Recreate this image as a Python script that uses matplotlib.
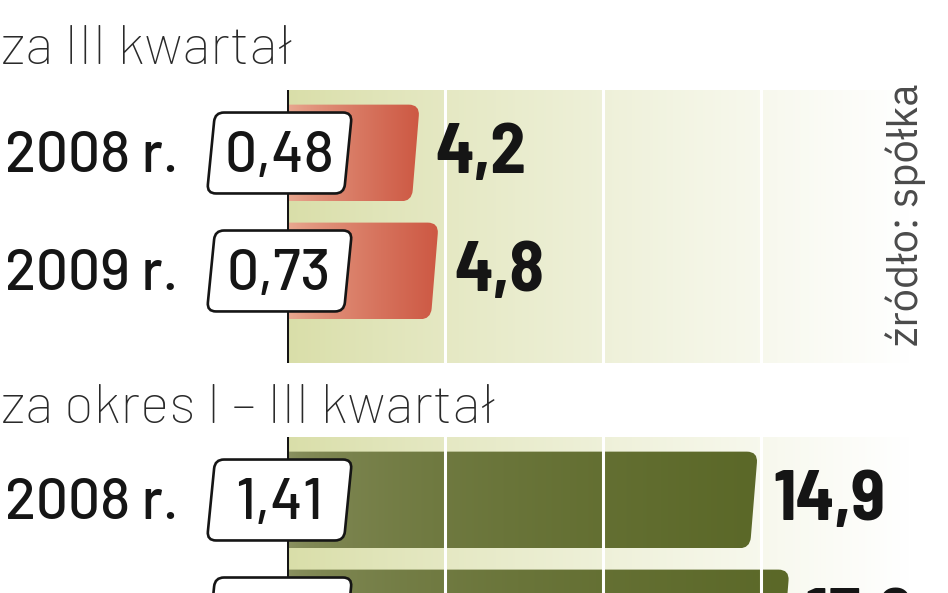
import numpy as np
import matplotlib
matplotlib.use('Agg')
import matplotlib.pyplot as plt
from matplotlib.path import Path
from matplotlib.patches import PathPatch
from matplotlib.colors import to_rgb

# data (mln zł): revenue on the bars, net profit in the white boxes
years = ['2008 r.', '2009 r.']
q3_revenue = [4.2, 4.8]
q3_profit = ['0,48', '0,73']
ytd_revenue = [14.9, 15.9]
ytd_profit = ['1,41', '1,85']
titles = ['za III kwartał', 'za okres I \u2013 III kwartał']
source = 'źródło: spółka'
grid_ticks = [5, 10, 15]

W, H = 948, 593
X0 = 287             # pixel column of the zero line
SX = 31.6            # pixels per value unit
XMAX = 19.7          # value range of the panels
SY = 118.0           # pixels per row
YLIM = (1.78, -0.534)

COND = ['Barlow Semi Condensed', 'IBM Plex Sans Condensed', 'DejaVu Sans']
WIDE = ['Barlow', 'IBM Plex Sans Condensed', 'DejaVu Sans']


def fx(px):
    return px / W


def fy(py):
    return 1 - py / H


def ux(px):
    # pixel column -> value units
    return (px - X0) / SX


def rounded_path(verts, radii):
    """closed polygon with rounded corners, radii given in pixels"""
    pts = np.array([(x * SX, y * SY) for x, y in verts])
    n = len(pts)
    codes, out = [], []
    for i in range(n):
        p, prev, nxt = pts[i], pts[i - 1], pts[(i + 1) % n]
        r = radii[i]
        if r <= 0:
            out.append(p)
            codes.append(Path.MOVETO if i == 0 else Path.LINETO)
            continue
        a = p + (prev - p) / np.linalg.norm(prev - p) * r
        b = p + (nxt - p) / np.linalg.norm(nxt - p) * r
        out += [a, p, b]
        codes += [Path.MOVETO if i == 0 else Path.LINETO, Path.CURVE3, Path.CURVE3]
    out.append(out[0])
    codes.append(Path.CLOSEPOLY)
    out = np.array(out) / [SX, SY]
    return Path(out, codes)


def gradient(c_left, c_right, n=256, power=1.0):
    t = np.linspace(0, 1, n) ** power
    c0, c1 = np.array(to_rgb(c_left)), np.array(to_rgb(c_right))
    rgb = c0[None, :] * (1 - t[:, None]) + c1[None, :] * t[:, None]
    a = np.ones(n)
    return np.dstack([rgb[None, :, 0], rgb[None, :, 1], rgb[None, :, 2], a[None, :]])


def fmt(v):
    return ('%.1f' % v).replace('.', ',')


def draw_panel(ax, values, profits, c_left, c_right, power):
    ax.set_xlim(0, XMAX)
    ax.set_ylim(*YLIM)
    ax.set_axis_off()
    # light green background fading to white
    bg = gradient('#d9dea8', '#ffffff', power=0.85)
    ax.imshow(bg, extent=[0, XMAX, YLIM[0], YLIM[1]], aspect='auto', zorder=0,
              interpolation='bilinear')
    h = 0.82
    for i, (v, p, yr) in enumerate(zip(values, profits, years)):
        yt, yb = i - h / 2, i + h / 2
        bar = rounded_path([(0, yt), (v, yt), (v - 0.25, yb), (0, yb)], [0, 11, 11, 0])
        patch = PathPatch(bar, facecolor='none', edgecolor='none', zorder=2)
        ax.add_patch(patch)
        im = ax.imshow(gradient(c_left, c_right, power=power), extent=[0, v, yb, yt],
                       aspect='auto', zorder=2, interpolation='bilinear')
        im.set_clip_path(patch)
        # value next to the bar
        ax.text(v + 0.5, i + 0.172, fmt(v), family=COND, weight='bold', fontsize=51,
                color='#151515', ha='left', va='baseline', zorder=6, clip_on=False)
        # year label on the left
        ax.text(ux(5), i + 0.161, yr, family=WIDE, weight='medium', fontsize=41,
                color='#151515', ha='left', va='baseline', zorder=6, clip_on=False)
        # white slanted box with net profit
        bh = 0.343
        box = rounded_path([(ux(215), i - bh), (ux(352), i - bh),
                            (ux(344), i + bh), (ux(207), i + bh)], [9, 9, 9, 9])
        ax.add_patch(PathPatch(box, facecolor='white', edgecolor='#151515', lw=1.9,
                               zorder=5, clip_on=False))
        ax.text(ux(279), i + 0.161, p, family=WIDE, weight='medium', fontsize=41,
                color='#151515', ha='center', va='baseline', zorder=6, clip_on=False)
    for g in grid_ticks:
        ax.axvline(g, color='white', lw=2.2, zorder=3)
    ax.axvline(0, color='#151515', lw=2.2, zorder=4)


fig = plt.figure(figsize=(W / 100, H / 100), dpi=100)
fig.patch.set_facecolor('white')

ax1 = fig.add_axes([fx(X0), fy(363), XMAX * SX / W, 273 / H])
draw_panel(ax1, q3_revenue, q3_profit, '#e9aa92', '#cd5843', power=0.8)

ax2 = fig.add_axes([fx(X0), fy(710), XMAX * SX / W, 273 / H])
draw_panel(ax2, ytd_revenue, ytd_profit, '#8e9465', '#5b6828', power=0.45)

fig.text(fx(1), fy(64), titles[0], family=WIDE, weight='light', fontsize=40,
         color='#2a2a2a', ha='left', va='baseline')
fig.text(fx(1), fy(423), titles[1], family=WIDE, weight='light', fontsize=40,
         color='#2a2a2a', ha='left', va='baseline')
fig.text(fx(906), fy(215), source, family=['IBM Plex Sans', 'DejaVu Sans'], weight='light',
         fontsize=30, color='#4a4a4a', rotation=90, ha='center', va='center')

fig.savefig('out.png', dpi=100)
